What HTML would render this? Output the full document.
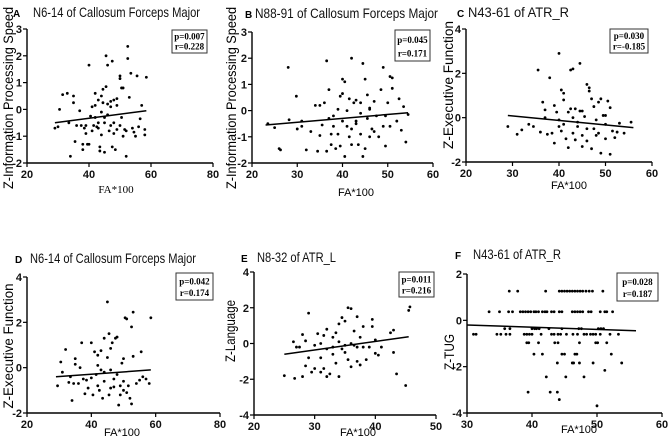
<!DOCTYPE html>
<html><head><meta charset="utf-8">
<style>
html,body{margin:0;padding:0;background:#fff;}
svg{display:block;font-family:"Liberation Sans",Arial,sans-serif;}
.tick{font-size:11px;fill:#111;font-weight:bold;}
.ttl{font-size:14px;fill:#111;}
.ser{font-family:"Liberation Serif",serif;}
</style></head>
<body>
<svg id="fig" width="669" height="438" viewBox="0 0 669 438" xmlns="http://www.w3.org/2000/svg"></svg>
<script>
// ---- Panel A data ----
const aX=[29,30,30.5,31.5,33,33.5,34,35,35,35.5,36,37,37.5,38,38,38.5,39,39.5,40,40,40.5,41,41.5,42,42,42.5,43,43,43.5,43.5,44,44,44.5,44.5,45,45,45.5,45.5,46,46,46.5,47,47,47.5,47.5,48,48,48.5,49,49,50,50,50.5,50.5,51,51,51.5,52,52.5,52.5,53,53.5,54,54.5,55,55.5,56,56.5,57,58,58,58.5,43,42,46,48,44,50,47,45,41,49,52,39];
const aY=[-0.7,-0.65,0,0.55,0.6,-0.5,-1.75,0.25,0.5,-1.2,-0.6,-0.05,-0.6,-1.3,-1.5,-0.7,-0.6,-1.3,-1.3,1.65,-0.25,-0.8,-0.6,0.6,0.15,-0.65,-0.5,0.35,-1.4,-1.55,-0.95,-0.1,0.75,0.25,-0.3,-1.6,2.0,0.85,1.65,-0.2,-0.8,0.1,-0.6,1.8,-1.4,0.35,-0.5,-1.5,-0.75,0.15,1.25,1.15,0.8,-0.3,0.8,-1.0,-0.75,-1.75,1.9,2.35,0.45,1.35,-0.7,-0.85,-1.0,1.25,-0.65,-0.35,0.15,-0.75,-0.95,1.2,-0.7,-0.3,0.2,-0.9,0.5,-0.6,0.3,-0.5,0.1,0.4,-0.8,-0.9];
const aLine=[[29,-0.5],[58.5,-0.05]];
// ---- Panel B data ----
const bX=[23.5,25,26,26.3,28,28.2,29.8,30,31,31,32,33,34,34.5,35,35,35.5,36,36.5,36.5,37,37,37.5,37.5,38,38.5,39,39,39.5,39.5,40,40,40.5,40.5,41,41.5,41.5,42,42,42.5,43,43,43.5,44,44.5,44.5,45,45,45.5,45.5,46,46,46.5,47,47,47.5,48,48.5,49,49,49.5,49.5,50,50.5,50.5,51,51,52,52.5,53,53.5,54,54.5,41,43,44,38,42,46,40,44];
const bY=[-0.5,-0.65,-1.45,-1.5,1.65,-0.35,0.55,-0.7,-0.4,-0.6,-1.5,-0.8,0.2,-1.55,-0.95,0.2,-0.55,0.3,1.9,-1.55,0.8,-0.3,-0.9,-1.3,-0.6,-1.45,0.05,-0.9,-1.35,0.55,1.2,0.65,1.1,-1.75,-0.6,0.45,-1.0,2.0,-1.3,0.3,0.4,-0.5,-1.3,-0.1,1.8,-1.75,1.2,-1.45,0.6,-0.3,0.05,-1.0,-0.7,0.35,-0.8,-0.2,-1.0,0.8,1.65,-0.6,-1.35,-0.2,0.3,-0.6,1.3,1.25,0.85,-0.4,0.45,-0.75,0.15,-1.2,-0.15,0.0,-0.4,0.3,-0.2,-0.7,0.1,-0.4,-0.9];
const bLine=[[23,-0.55],[54.5,-0.08]];
// ---- Panel C data ----
const cX=[29,31,32,33.5,34.5,35.5,36,36.5,37,37,37.5,38,38.5,39,39,39.5,40,40,40.5,40.5,41,41,41.5,42,42,42.5,42.5,43,43,43.5,43.5,44,44.5,44.5,45,45,45.5,46,46,46.5,46.5,47,47,47.5,47.5,48,48.5,48.5,49,49,49.5,50,50,50.5,51,51,51.5,52,52.5,53,54,55.5,44,41,46,43,48,45,50,40];
const cY=[-0.4,-0.75,-0.55,-0.3,-0.4,2.15,-0.65,0.7,0.35,0.0,-0.75,1.8,-0.7,0.55,-1.15,0.25,2.9,-0.1,1.25,-0.6,1.1,0.8,-0.95,0.25,-1.35,2.15,0.4,2.2,-0.7,0.4,-1.0,-0.4,0.3,2.45,-0.8,-1.3,0.05,1.5,-1.05,1.35,1.2,-1.4,0.85,0.5,-0.5,-0.1,-0.7,0.7,0.85,-1.6,0.1,-0.95,-0.3,0.75,0.45,-1.65,-0.6,-0.9,-0.65,-0.25,-0.7,-0.2,-0.2,-0.3,-0.5,0.0,-0.8,0.3,0.1,-0.4];
const cLine=[[29,0.1],[56,-0.45]];
// ---- Panel D data ----
const dX=[29.5,30.5,31,32,33,33.5,34,34.5,35,35,36,36.5,37,37.5,38,38.5,39,40,40,40.5,41,41.5,42,42,42.5,43,43.5,44,44,45,45,45.5,45.5,46,46,46.5,47,47.5,48,48,48.5,49,49.5,50,50,50.5,51,51,51.5,52,52.5,52.5,53,53,54,55,55.5,56,57,58,58.5,44,47,49,43,46,50,42];
const dY=[-0.8,0.25,-0.2,0.8,-0.65,-0.4,-1.45,-0.7,0.15,0.4,-0.7,0.0,1.1,-0.5,-1.15,-0.55,-0.9,1.1,-0.45,-1.2,0.7,-0.3,0.55,-0.8,-1.0,0.75,-1.35,1.3,-0.6,2.9,0.45,1.5,-1.2,0.85,-0.1,1.1,-0.85,1.3,1.35,-0.3,-1.65,-0.8,0.2,0.4,-1.0,2.2,2.15,-1.1,-0.8,-1.35,-1.6,1.8,2.45,0.5,-0.7,-0.55,0.7,-0.4,-0.5,-0.7,2.2,-0.2,-0.5,-1.2,-0.1,-0.9,-0.6,0.1];
const dLine=[[29,-0.4],[58.5,-0.1]];
// ---- Panel E data ----
const eX=[25,26.5,26.7,27,27.5,28,28,28.5,28.5,29,29,29.5,30,30,30.5,31,31,31.5,31.5,32,32,32.5,33,33,33.5,33.5,34,34,34.5,34.5,35,35,35.5,35.5,36,36,36.5,36.5,37,37,37.5,37.5,38,38,38.5,39,39.5,39.5,40,40,40.5,41,42.5,43,43,43.5,45,45.5,45.7,33,35,34,36,32,37,31];
const eY=[-1.8,0.1,-1.95,-0.2,-0.2,0.5,-1.85,0.15,-1.25,1.7,-0.8,-1.6,-0.1,-1.4,0.55,-0.8,-1.6,0.45,-1.4,0.8,-1.85,-1.7,0.35,-0.6,0.6,-1.1,1.1,-1.85,1.45,-0.3,1.25,-0.5,2.0,-0.9,1.95,-1.3,0.7,-0.1,1.5,-1.0,0.35,-1.2,0.95,-0.2,-0.9,-0.2,1.35,0.95,0.2,-0.55,-0.65,-0.2,0.6,0.75,-0.5,-1.7,-2.35,1.85,2.05,-0.2,-0.1,0.1,0.0,-0.3,-0.2,0.0];
const eLine=[[25,-0.6],[45.5,0.38]];
// ---- Panel F data (discrete y levels) ----
const fLevels=[1.26,0.37,-0.36,-0.6,-0.97,-1.46,-1.84,-2.16,-2.44,-3.1,-3.42,-3.69];
const fXs=[
 [36.5,37.8,42.1,44.2,44.6,45,45.4,45.8,46.2,46.6,47,47.4,47.8,48.3,48.8,49.3,50.9],
 [33.4,35,36.4,37,38.2,38.6,39,39.4,39.8,40.3,40.6,41,41.6,42,42.3,43,43.4,44.2,44.6,46.2,46.6,47,47.4,47.8,48.7,49.1,50.5,51.2,51.5,52.4],
 [35.8,36.6,40,40.4,40.7,41.1,42.6,44.6,47.2,47.6,50.2,50.6,51],
 [31,31.4,34.6,35.2,36,36.6,38.8,39.2,39.6,40,41.4,43,43.4,44,44.4,45.3,46.3,47,48,48.4,49,49.4,49.8,50.5,52,53.3],
 [39.2,39.5,41,43.5,44,47.3,49.8,50.1,51.5],
 [40.3,41.6,44.6,45,46.6,46.9,52.2],
 [43.9,46.2,46.4,47.3,49.4,53.8],
 [51.2],
 [42.2,45.2,48],
 [39.4,42.8,43.9],
 [44.2],
 [50]];
const fLine=[[30,-0.2],[56,-0.45]];

const NS="http://www.w3.org/2000/svg";
const svg=document.getElementById('fig');
function mk(tag,attrs,parent){const e=document.createElementNS(NS,tag);for(const k in attrs)e.setAttribute(k,attrs[k]);(parent||svg).appendChild(e);return e;}

function panel(cfg){
  const g=mk('g',{});
  
  
  const sx=v=>cfg.x0+(v-cfg.xmin)/(cfg.xmax-cfg.xmin)*(cfg.x1-cfg.x0);
  const sy=v=>cfg.y0+(v-cfg.ymin)/(cfg.ymax-cfg.ymin)*(cfg.y1-cfg.y0);
  const ya=mk('line',{x1:cfg.x0,y1:cfg.y0,x2:cfg.x0,y2:cfg.y1,stroke:'#000','stroke-width':1.4},g);
  
  
  const xa=mk('line',{x1:cfg.x0,y1:cfg.y0,x2:cfg.x1,y2:cfg.y0,stroke:'#000','stroke-width':1.4},g);
  
  
  cfg.yt.forEach(t=>{
    mk('line',{x1:cfg.x0-4,y1:sy(t),x2:cfg.x0,y2:sy(t),stroke:'#000','stroke-width':1.2},g);
    const tx=mk('text',{x:cfg.x0-5,y:sy(t)+4,'text-anchor':'end',class:'tick'},g);
    tx.textContent=t;
    
    
  });
  cfg.xt.forEach(t=>{
    mk('line',{x1:sx(t),y1:cfg.y0,x2:sx(t),y2:cfg.y0+4,stroke:'#000','stroke-width':1.2},g);
    const tx=mk('text',{x:sx(t),y:cfg.y0+15,'text-anchor':'middle',class:'tick'},g);
    tx.textContent=t;
    
    
  });
  cfg.xs.forEach((xv,i)=>{
    const c=mk('circle',{cx:sx(xv),cy:sy(cfg.ys[i]),r:1.4,fill:'#000'},g);
    
    
  });
  const ln=mk('line',{x1:sx(cfg.line[0][0]),y1:sy(cfg.line[0][1]),x2:sx(cfg.line[1][0]),y2:sy(cfg.line[1][1]),stroke:'#000','stroke-width':1.5},g);
  
  
  const lt=mk('text',{x:cfg.lx,y:cfg.ty,'font-size':'10px','font-weight':'bold'},g);
  lt.textContent=cfg.id;
  
  
  const tt=mk('text',{x:cfg.tx,y:cfg.ty,class:'ttl',textLength:cfg.tw,lengthAdjust:'spacingAndGlyphs'},g);
  tt.textContent=cfg.title;
  
  
  const yt=mk('text',{x:0,y:0,'font-size':'14px','text-anchor':'middle',transform:`translate(${cfg.ytx},${cfg.yty}) rotate(-90)`,textLength:cfg.ytw,lengthAdjust:'spacingAndGlyphs'},g);
  yt.textContent=cfg.ylab;
  
  
  const xt=mk('text',{x:cfg.xtx,y:cfg.xty,'font-size':'11px','text-anchor':'middle',class:cfg.serif?'ser':''},g);
  xt.textContent='FA*100';
  
  
  const b=mk('rect',{x:cfg.bx,y:cfg.by,width:cfg.bw,height:cfg.bh,fill:'#fff',stroke:'#333','stroke-width':1},g);
  
  
  const p=mk('text',{x:cfg.bx+cfg.bw/2,y:cfg.by+cfg.bh*0.42,'text-anchor':'middle','font-size':'9px','font-weight':'bold',class:'ser'},g);
  p.textContent=cfg.p;
  
  
  const r=mk('text',{x:cfg.bx+cfg.bw/2,y:cfg.by+cfg.bh*0.85,'text-anchor':'middle','font-size':'9px','font-weight':'bold',class:'ser'},g);
  r.textContent=cfg.r;
  
  
}

const fX=[],fY=[];
fLevels.forEach((lv,i)=>fXs[i].forEach(x=>{fX.push(x);fY.push(lv);}));

panel({id:'A',x0:27,x1:213,xmin:20,xmax:80,y0:163,y1:29,ymin:-2,ymax:3,xt:[20,40,60,80],yt:[-2,-1,0,1,2,3],xs:aX,ys:aY,line:aLine,
  lx:13,tx:33,ty:17,tw:167,title:'N6-14 of Callosum Forceps Major',ylab:'Z-Information Processing Speed',ytx:13,yty:98,ytw:182,xtx:116,xty:193,serif:true,
  bx:172,by:30,bw:35,bh:23,p:'p=0.007',r:'r=0.228'});
panel({id:'B',x0:252,x1:433,xmin:20,xmax:60,y0:163,y1:32,ymin:-2,ymax:3,xt:[20,30,40,50,60],yt:[-2,-1,0,1,2,3],xs:bX,ys:bY,line:bLine,
  lx:245,tx:255,ty:18,tw:183,title:'N88-91 of Callosum Forceps Major',ylab:'Z-Information Processing Speed',ytx:236,yty:98,ytw:182,xtx:356,xty:196,serif:false,
  bx:395,by:30,bw:35,bh:31,p:'p=0.045',r:'r=0.171'});
panel({id:'C',x0:466,x1:652,xmin:20,xmax:60,y0:162,y1:29,ymin:-2,ymax:4,xt:[20,30,40,50,60],yt:[-2,0,2,4],xs:cX,ys:cY,line:cLine,
  lx:457,tx:468,ty:17,tw:101,title:'N43-61 of ATR_R',ylab:'Z-Executive Function',ytx:453,yty:85,ytw:128,xtx:569,xty:189,serif:false,
  bx:610,by:29,bw:38,bh:24,p:'p=0.030',r:'r=-0.185'});
panel({id:'D',x0:27,x1:220,xmin:20,xmax:80,y0:413,y1:277,ymin:-2,ymax:4,xt:[20,40,60,80],yt:[-2,0,2,4],xs:dX,ys:dY,line:dLine,
  lx:15,tx:30,ty:263,tw:166,title:'N6-14 of Callosum Forceps Major',ylab:'Z-Executive Function',ytx:13,yty:346,ytw:125,xtx:122,xty:436,serif:false,
  bx:176,by:273,bw:37,bh:27,p:'p=0.042',r:'r=0.174'});
panel({id:'E',x0:254,x1:436,xmin:20,xmax:50,y0:415,y1:272,ymin:-4,ymax:4,xt:[20,30,40,50],yt:[-4,-2,0,2,4],xs:eX,ys:eY,line:eLine,
  lx:241,tx:257,ty:262,tw:79,title:'N8-32 of ATR_L',ylab:'Z-Language',ytx:235,yty:331,ytw:62,xtx:358,xty:436,serif:false,
  bx:399,by:272,bw:35,bh:25,p:'p=0.011',r:'r=0.216'});
panel({id:'F',x0:467,x1:662,xmin:30,xmax:60,y0:413,y1:274,ymin:-4,ymax:2,xt:[30,40,50,60],yt:[-4,-2,0,2],xs:fX,ys:fY,line:fLine,
  lx:455,tx:473,ty:259,tw:88,title:'N43-61 of ATR_R',ylab:'Z-TUG',ytx:454,yty:352,ytw:36,xtx:579,xty:433,serif:false,
  bx:617,by:273,bw:41,bh:28,p:'p=0.028',r:'r=0.187'});
</script>
</body></html>
